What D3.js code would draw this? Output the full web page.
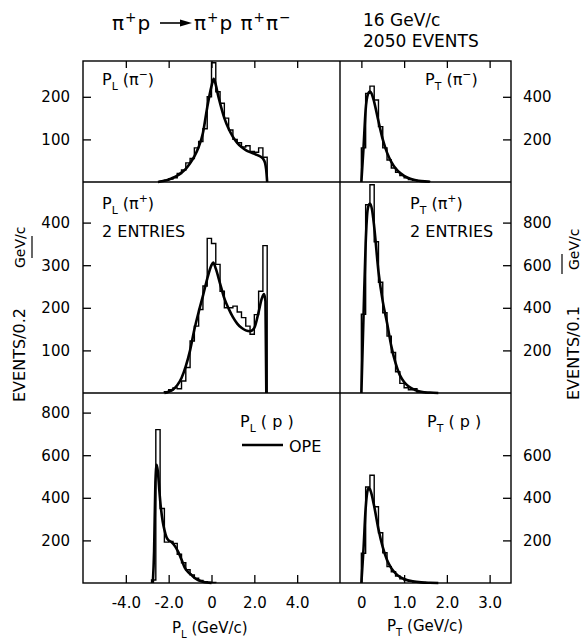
<!DOCTYPE html>
<html>
<head>
<meta charset="utf-8">
<script src="https://cdn.jsdelivr.net/npm/d3@7"></script>
<style>
  body { margin: 0; background: #fff; }
  svg { display: block; font-family: 'DejaVu Sans', sans-serif; }
</style>
</head>
<body>
<div class="chart"></div>
<script>
// x ticks
const plTicks = [-4, -2, 0, 2, 4];
const plTickLabels = ['-4.0', '-2.0', '0', '2.0', '4.0'];
const ptTicks = [0, 1, 2, 3];
const ptTickLabels = ['0', '1.0', '2.0', '3.0'];

// y ticks per panel
const yTicksTL = [100, 200];
const yTicksTR = [200, 400];
const yTicksML = [100, 200, 300, 400];
const yTicksMR = [200, 400, 600, 800];
const yTicksBL = [200, 400, 600, 800];
const yTicksBR = [200, 400, 600];

// histograms (events per bin), first bin edge + values
const plPimStart = -2.4;
const plPimHist = [2, 4, 7, 10, 20, 28, 45, 55, 80, 95, 125, 200, 280, 212, 185, 150, 122, 100, 92, 82, 85, 72, 70, 80, 58];
const ptPimStart = 0;
const ptPimHist = [160, 416, 450, 385, 260, 160, 103, 66, 45, 30, 20, 12, 8, 5, 3, 2];
const plPipStart = -2.2;
const plPipHist = [3, 8, 12, 10, 28, 60, 122, 157, 196, 251, 363, 351, 302, 239, 200, 200, 204, 190, 177, 157, 138, 184, 239, 346];
const ptPipStart = 0;
const ptPipHist = [370, 884, 978, 710, 520, 377, 267, 190, 100, 45, 25, 15, 20, 5, 3, 1];
const plPStart = -2.8;
const plPHist = [14, 720, 350, 192, 195, 186, 135, 95, 62, 38, 22, 12, 6, 4, 2];
const ptPStart = 0;
const ptPHist = [140, 451, 506, 358, 236, 142, 77, 53, 33, 20, 12, 8, 5, 6, 3, 1];

// OPE curves [p, events]
const plPimCurve = [[-2.5, 0], [-2.2, 3], [-2.0, 6], [-1.8, 10], [-1.6, 15], [-1.4, 22], [-1.2, 31], [-1.0, 44], [-0.8, 60], [-0.6, 82], [-0.4, 115], [-0.2, 175], [0, 225], [0.1, 242], [0.2, 228], [0.3, 205], [0.4, 185], [0.6, 150], [0.8, 125], [1.0, 106], [1.2, 92], [1.4, 82], [1.6, 75], [1.8, 70], [2.0, 66], [2.2, 62], [2.4, 55], [2.5, 45], [2.55, 30], [2.6, 0]];
const ptPimCurve = [[0, 0], [0.05, 160], [0.1, 340], [0.15, 410], [0.2, 425], [0.25, 410], [0.3, 375], [0.4, 285], [0.5, 200], [0.6, 138], [0.7, 95], [0.8, 64], [0.9, 43], [1.0, 29], [1.1, 19], [1.2, 12], [1.3, 7], [1.4, 4], [1.6, 1]];
const plPipCurve = [[-2.2, 0], [-2.0, 3], [-1.8, 8], [-1.6, 18], [-1.4, 35], [-1.2, 63], [-1.0, 100], [-0.8, 149], [-0.6, 190], [-0.4, 228], [-0.2, 268], [0, 300], [0.08, 306], [0.2, 292], [0.4, 257], [0.6, 222], [0.8, 198], [1.0, 178], [1.2, 163], [1.4, 153], [1.6, 147], [1.8, 145], [2.0, 153], [2.2, 190], [2.35, 222], [2.45, 232], [2.52, 215], [2.56, 0]];
const ptPipCurve = [[0, 0], [0.05, 360], [0.1, 700], [0.15, 865], [0.2, 890], [0.25, 860], [0.3, 780], [0.4, 570], [0.5, 430], [0.6, 330], [0.7, 220], [0.8, 140], [0.9, 84], [1.0, 52], [1.1, 32], [1.2, 19], [1.3, 11], [1.4, 6], [1.6, 2], [1.8, 0]];
const plPCurve = [[-2.74, 0], [-2.68, 150], [-2.62, 470], [-2.56, 555], [-2.5, 520], [-2.44, 440], [-2.36, 350], [-2.28, 290], [-2.2, 250], [-2.1, 215], [-2.0, 200], [-1.87, 192], [-1.7, 172], [-1.56, 147], [-1.4, 110], [-1.25, 72], [-1.1, 52], [-0.94, 38], [-0.8, 25], [-0.63, 14], [-0.4, 6], [-0.2, 2], [0, 0]];
const ptPCurve = [[0, 0], [0.05, 160], [0.1, 350], [0.15, 438], [0.18, 447], [0.22, 430], [0.3, 360], [0.4, 252], [0.5, 168], [0.6, 108], [0.7, 70], [0.8, 45], [0.9, 29], [1.0, 19], [1.2, 8], [1.4, 3], [1.6, 1], [1.8, 0]];

const width = 583, height = 639;
const left = 83, mid = 340, right = 511;
const rowTop = [61, 182, 393], rowBot = [182, 393, 583];
const tickGap = 42.6; // px between labelled y ticks

const svg = d3.select('.chart')
    .append('svg')
    .attr('width', width)
    .attr('height', height);

svg.append('rect').attr('width', width).attr('height', height).attr('fill', '#fff');

const xL = d3.scaleLinear().domain([-6, 6]).range([left, mid]);
const xR = d3.scaleLinear().domain([-0.5, 3.5]).range([mid, right]);

function yScale(row, step) {
    const top = rowTop[row], bot = rowBot[row];
    return d3.scaleLinear().domain([0, step * (bot - top) / tickGap]).range([bot, top]);
}

function rich(parent, x, y, parts, size) {
    const t = parent.append('text').attr('x', x).attr('y', y).attr('font-size', size);
    let shift = 0;
    parts.forEach(([s, pos]) => {
        const target = pos === 'sub' ? 0.3 * size : pos === 'sup' ? -0.42 * size : 0;
        t.append('tspan')
            .attr('dy', target - shift)
            .attr('font-size', pos ? size * 0.68 : size)
            .text(s);
        shift = target;
    });
    return t;
}

function cleanAxis(g) {
    g.select('.domain').remove();
    g.attr('font-size', 15).attr('font-family', null);
    g.selectAll('.tick line').attr('stroke-width', 1.3);
}

const panels = [
    { x: xL, row: 0, step: 100, side: 'left', ticks: yTicksTL, start: plPimStart, bin: 0.2, hist: plPimHist, curve: plPimCurve },
    { x: xR, row: 0, step: 200, side: 'right', ticks: yTicksTR, start: ptPimStart, bin: 0.1, hist: ptPimHist, curve: ptPimCurve },
    { x: xL, row: 1, step: 100, side: 'left', ticks: yTicksML, start: plPipStart, bin: 0.2, hist: plPipHist, curve: plPipCurve },
    { x: xR, row: 1, step: 200, side: 'right', ticks: yTicksMR, start: ptPipStart, bin: 0.1, hist: ptPipHist, curve: ptPipCurve },
    { x: xL, row: 2, step: 200, side: 'left', ticks: yTicksBL, start: plPStart, bin: 0.2, hist: plPHist, curve: plPCurve },
    { x: xR, row: 2, step: 200, side: 'right', ticks: yTicksBR, start: ptPStart, bin: 0.1, hist: ptPHist, curve: ptPCurve }
];

panels.forEach(p => {
    const y = yScale(p.row, p.step);

    // y axis with inward ticks
    if (p.side === 'left') {
        svg.append('g')
            .attr('transform', `translate(${left},0)`)
            .call(d3.axisLeft(y).tickValues(p.ticks).tickSizeInner(-8).tickSizeOuter(0).tickPadding(13))
            .call(cleanAxis);
    } else {
        svg.append('g')
            .attr('transform', `translate(${right},0)`)
            .call(d3.axisRight(y).tickValues(p.ticks).tickSizeInner(-8).tickSizeOuter(0).tickPadding(12))
            .call(cleanAxis);
    }

    // histogram outline
    const pts = [[p.start, 0]]
        .concat(p.hist.map((v, i) => [p.start + i * p.bin, v]))
        .concat([[p.start + p.hist.length * p.bin, 0]]);
    svg.append('path')
        .datum(pts)
        .attr('fill', 'none')
        .attr('stroke', '#000')
        .attr('stroke-width', 1.4)
        .attr('d', d3.line().x(d => p.x(d[0])).y(d => y(d[1])).curve(d3.curveStepAfter));

    // OPE curve
    svg.append('path')
        .datum(p.curve)
        .attr('fill', 'none')
        .attr('stroke', '#000')
        .attr('stroke-width', 2.6)
        .attr('stroke-linejoin', 'round')
        .attr('d', d3.line().x(d => p.x(d[0])).y(d => y(d[1])).curve(d3.curveMonotoneX));
});

// x axes: bottom with labels, top ticks only
svg.append('g')
    .attr('transform', `translate(0,${rowBot[2]})`)
    .call(d3.axisBottom(xL).tickValues(plTicks).tickFormat((d, i) => plTickLabels[i]).tickSizeInner(-8).tickSizeOuter(0).tickPadding(14))
    .call(cleanAxis);
svg.append('g')
    .attr('transform', `translate(0,${rowBot[2]})`)
    .call(d3.axisBottom(xR).tickValues(ptTicks).tickFormat((d, i) => ptTickLabels[i]).tickSizeInner(-8).tickSizeOuter(0).tickPadding(14))
    .call(cleanAxis);
svg.append('g')
    .attr('transform', `translate(0,${rowTop[0]})`)
    .call(d3.axisTop(xL).tickValues(plTicks).tickFormat('').tickSizeInner(-7).tickSizeOuter(0))
    .call(cleanAxis);
svg.append('g')
    .attr('transform', `translate(0,${rowTop[0]})`)
    .call(d3.axisTop(xR).tickValues(ptTicks).tickFormat('').tickSizeInner(-7).tickSizeOuter(0))
    .call(cleanAxis);

// frame and dividers
const frame = svg.append('g').attr('stroke', '#000').attr('stroke-width', 1.4).attr('fill', 'none');
frame.append('rect').attr('x', left).attr('y', rowTop[0]).attr('width', right - left).attr('height', rowBot[2] - rowTop[0]);
frame.append('line').attr('x1', mid).attr('x2', mid).attr('y1', rowTop[0]).attr('y2', rowBot[2]);
frame.append('line').attr('x1', left).attr('x2', right).attr('y1', rowTop[1]).attr('y2', rowTop[1]);
frame.append('line').attr('x1', left).attr('x2', right).attr('y1', rowTop[2]).attr('y2', rowTop[2]);

// title
const title = svg.append('g');
rich(title, 112, 30, [['π'], ['+', 'sup'], ['p']], 20).attr('letter-spacing', 1);
title.append('line').attr('x1', 160).attr('x2', 182).attr('y1', 23).attr('y2', 23).attr('stroke', '#000').attr('stroke-width', 1.6);
title.append('path').attr('d', 'M180,19.5 L192,23 L180,26.5 Z').attr('fill', '#000');
rich(title, 194, 30, [['π'], ['+', 'sup'], ['p '], ['π'], ['+', 'sup'], ['π'], ['−', 'sup']], 20).attr('letter-spacing', 1);

svg.append('text').attr('x', 363).attr('y', 26).attr('font-size', 17).text('16 GeV/c');
svg.append('text').attr('x', 363).attr('y', 47).attr('font-size', 17).text('2050 EVENTS');

// panel labels
rich(svg, 102, 85, [['P'], ['L', 'sub'], [' (π'], ['−', 'sup'], [')']], 16);
rich(svg, 425, 85, [['P'], ['T', 'sub'], [' (π'], ['−', 'sup'], [')']], 16);
rich(svg, 102, 209, [['P'], ['L', 'sub'], [' (π'], ['+', 'sup'], [')']], 16);
svg.append('text').attr('x', 102).attr('y', 237).attr('font-size', 16).text('2 ENTRIES');
rich(svg, 410, 209, [['P'], ['T', 'sub'], [' (π'], ['+', 'sup'], [')']], 16);
svg.append('text').attr('x', 410).attr('y', 237).attr('font-size', 16).text('2 ENTRIES');
rich(svg, 240, 427, [['P'], ['L', 'sub'], [' ( p )']], 16);
rich(svg, 427, 427, [['P'], ['T', 'sub'], [' ( p )']], 16);

// legend
svg.append('line').attr('x1', 242).attr('x2', 283).attr('y1', 445).attr('y2', 445).attr('stroke', '#000').attr('stroke-width', 2.6);
svg.append('text').attr('x', 289).attr('y', 452).attr('font-size', 16).text('OPE');

// axis titles
rich(svg, 172, 633, [['P'], ['L', 'sub'], [' (GeV/c)']], 15);
rich(svg, 387, 631, [['P'], ['T', 'sub'], [' (GeV/c)']], 15);

// y titles
svg.append('text').attr('transform', 'translate(25,402) rotate(-90)').attr('font-size', 16).text('EVENTS/0.2');
svg.append('text').attr('transform', 'translate(25,268) rotate(-90)').attr('font-size', 14).text('GeV/c');
svg.append('line').attr('x1', 32).attr('x2', 32).attr('y1', 236).attr('y2', 258).attr('stroke', '#000').attr('stroke-width', 1.2);
svg.append('text').attr('transform', 'translate(579,400) rotate(-90)').attr('font-size', 16).text('EVENTS/0.1');
svg.append('text').attr('transform', 'translate(579,270) rotate(-90)').attr('font-size', 14).text('GeV/c');
svg.append('line').attr('x1', 562).attr('x2', 562).attr('y1', 254).attr('y2', 274).attr('stroke', '#000').attr('stroke-width', 1.2);
</script>
</body>
</html>
